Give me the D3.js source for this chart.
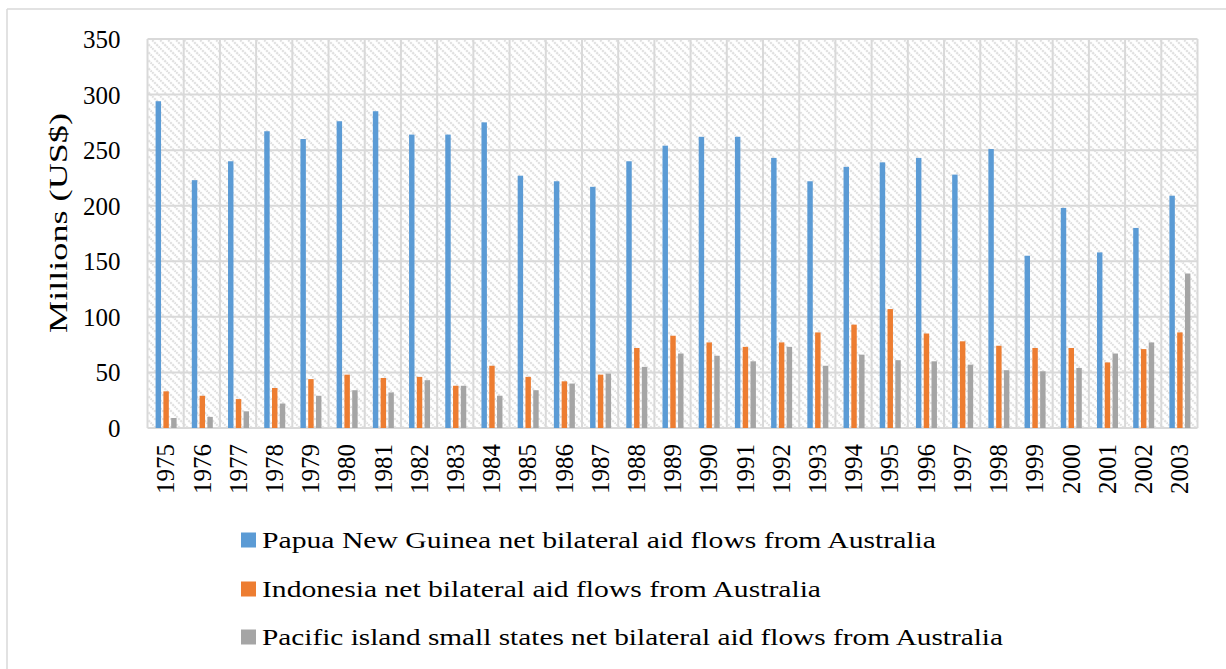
<!DOCTYPE html>
<html>
<head>
<meta charset="utf-8">
<script src="https://cdn.jsdelivr.net/npm/d3@7"></script>
<style>
  html, body { margin: 0; padding: 0; background: #fff; }
  svg { display: block; }
  text { font-family: "Liberation Serif", "DejaVu Serif", serif; fill: #000; }
</style>
</head>
<body>
<svg id="chart" width="1226" height="669"></svg>
<script>
const years = ["1975","1976","1977","1978","1979","1980","1981","1982","1983","1984","1985","1986","1987","1988","1989","1990","1991","1992","1993","1994","1995","1996","1997","1998","1999","2000","2001","2002","2003"];
const png = [294,223,240,267,260,276,285,264,264,275,227,222,217,240,254,262,262,243,222,235,239,243,228,251,155,198,158,180,209];
const indonesia = [33,29,26,36,44,48,45,46,38,56,46,42,48,72,83,77,73,77,86,93,107,85,78,74,72,72,59,71,86];
const pacific = [9,10,15,22,29,34,32,43,38,29,34,40,49,55,67,65,60,73,56,66,61,60,57,52,51,54,67,77,139];
const seriesNames = [
  "Papua New Guinea net bilateral aid flows from Australia",
  "Indonesia net bilateral aid flows from Australia",
  "Pacific island small states net bilateral aid flows from Australia"
];
const seriesColors = ["#5b9bd5", "#ed7d31", "#a5a5a5"];
const yTicks = [0,50,100,150,200,250,300,350];
const yTitle = "Millions (US$)";

const seriesValues = [png, indonesia, pacific];
const svg = d3.select("#chart");

// outer frame (top and left)
svg.append("line").attr("x1", 7).attr("x2", 1226).attr("y1", 9).attr("y2", 9)
  .attr("stroke", "#d9d9d9").attr("stroke-width", 1.5);
svg.append("line").attr("x1", 7).attr("x2", 7).attr("y1", 9).attr("y2", 669)
  .attr("stroke", "#d9d9d9").attr("stroke-width", 1.5);

const plot = {left: 147.5, right: 1197.5, top: 39, bottom: 428};

// hatch pattern
const defs = svg.append("defs");
const pat = defs.append("pattern").attr("id", "hatch")
  .attr("patternUnits", "userSpaceOnUse").attr("width", 8).attr("height", 8);
pat.append("rect").attr("width", 8).attr("height", 8).attr("fill", "#fff");
pat.append("path").attr("d", "M0,0 L8,8 M-2,6 L2,10 M6,-2 L10,2")
  .attr("stroke", "#e0e0e0").attr("stroke-width", 2.2).attr("stroke-dasharray", "2.2,0.9");

svg.append("rect").attr("x", plot.left).attr("y", plot.top)
  .attr("width", plot.right - plot.left).attr("height", plot.bottom - plot.top)
  .attr("fill", "url(#hatch)");

const x = d3.scaleBand().domain(years).range([plot.left, plot.right]).padding(0);
const y = d3.scaleLinear().domain([0, 350]).range([plot.bottom, plot.top]);
const x1 = d3.scaleBand().domain(d3.range(3))
  .range([x.bandwidth()/2 - 10, x.bandwidth()/2 + 11]).paddingInner(0.3);

// gridlines
const grid = svg.append("g");
grid.selectAll("line.h").data(yTicks).join("line")
  .attr("x1", plot.left).attr("x2", plot.right)
  .attr("y1", d => y(d)).attr("y2", d => y(d))
  .attr("stroke", "#d9d9d9").attr("stroke-width", 2);
const vLines = years.map(yr => x(yr)).concat([plot.right]);
grid.selectAll("line.v").data(vLines).join("line")
  .attr("x1", d => d).attr("x2", d => d)
  .attr("y1", plot.top).attr("y2", plot.bottom)
  .attr("stroke", "#d9d9d9").attr("stroke-width", 2);

// bars
const bars = svg.append("g");
seriesValues.forEach((vals, si) => {
  bars.selectAll("rect.s" + si).data(vals).join("rect")
    .attr("x", (d, i) => x(years[i]) + x1(si))
    .attr("width", x1.bandwidth())
    .attr("y", d => y(d))
    .attr("height", d => y(0) - y(d))
    .attr("fill", seriesColors[si]);
});

// y axis labels
const yAxis = svg.append("g").attr("transform", `translate(${plot.left},0)`)
  .call(d3.axisLeft(y).tickValues(yTicks).tickSize(0).tickPadding(27));
yAxis.select(".domain").remove();
yAxis.selectAll("text").style("font-family", "Liberation Serif, serif")
  .style("font-size", "25px").attr("fill", "#000").attr("dy", "0.34em");

// x axis labels
const xAxis = svg.append("g").attr("transform", `translate(0,${plot.bottom})`)
  .call(d3.axisBottom(x).tickSize(0).tickPadding(0));
xAxis.select(".domain").remove();
xAxis.selectAll("text")
  .style("font-family", "Liberation Serif, serif").style("font-size", "25px")
  .attr("fill", "#000")
  .attr("text-anchor", "end")
  .attr("transform", "translate(0,16) rotate(-90)")
  .attr("x", 0).attr("y", 0).attr("dy", "0.35em");

// y title
svg.append("text")
  .attr("transform", "translate(58,223) rotate(-90)")
  .attr("text-anchor", "middle").attr("dy", "0.35em")
  .attr("textLength", 220).attr("lengthAdjust", "spacingAndGlyphs")
  .style("font-size", "26px").text(yTitle);

// legend
const legendY = [540, 589, 637];
const legendEnd = [936, 821, 1003];
const lg = svg.append("g");
seriesNames.forEach((name, i) => {
  lg.append("rect").attr("x", 241).attr("y", legendY[i] - 7.5)
    .attr("width", 15).attr("height", 15).attr("fill", seriesColors[i]);
  lg.append("text").attr("x", 262).attr("y", legendY[i] + 7.5)
    .attr("textLength", legendEnd[i] - 262).attr("lengthAdjust", "spacingAndGlyphs")
    .style("font-size", "24px").text(name);
});
</script>
</body>
</html>
